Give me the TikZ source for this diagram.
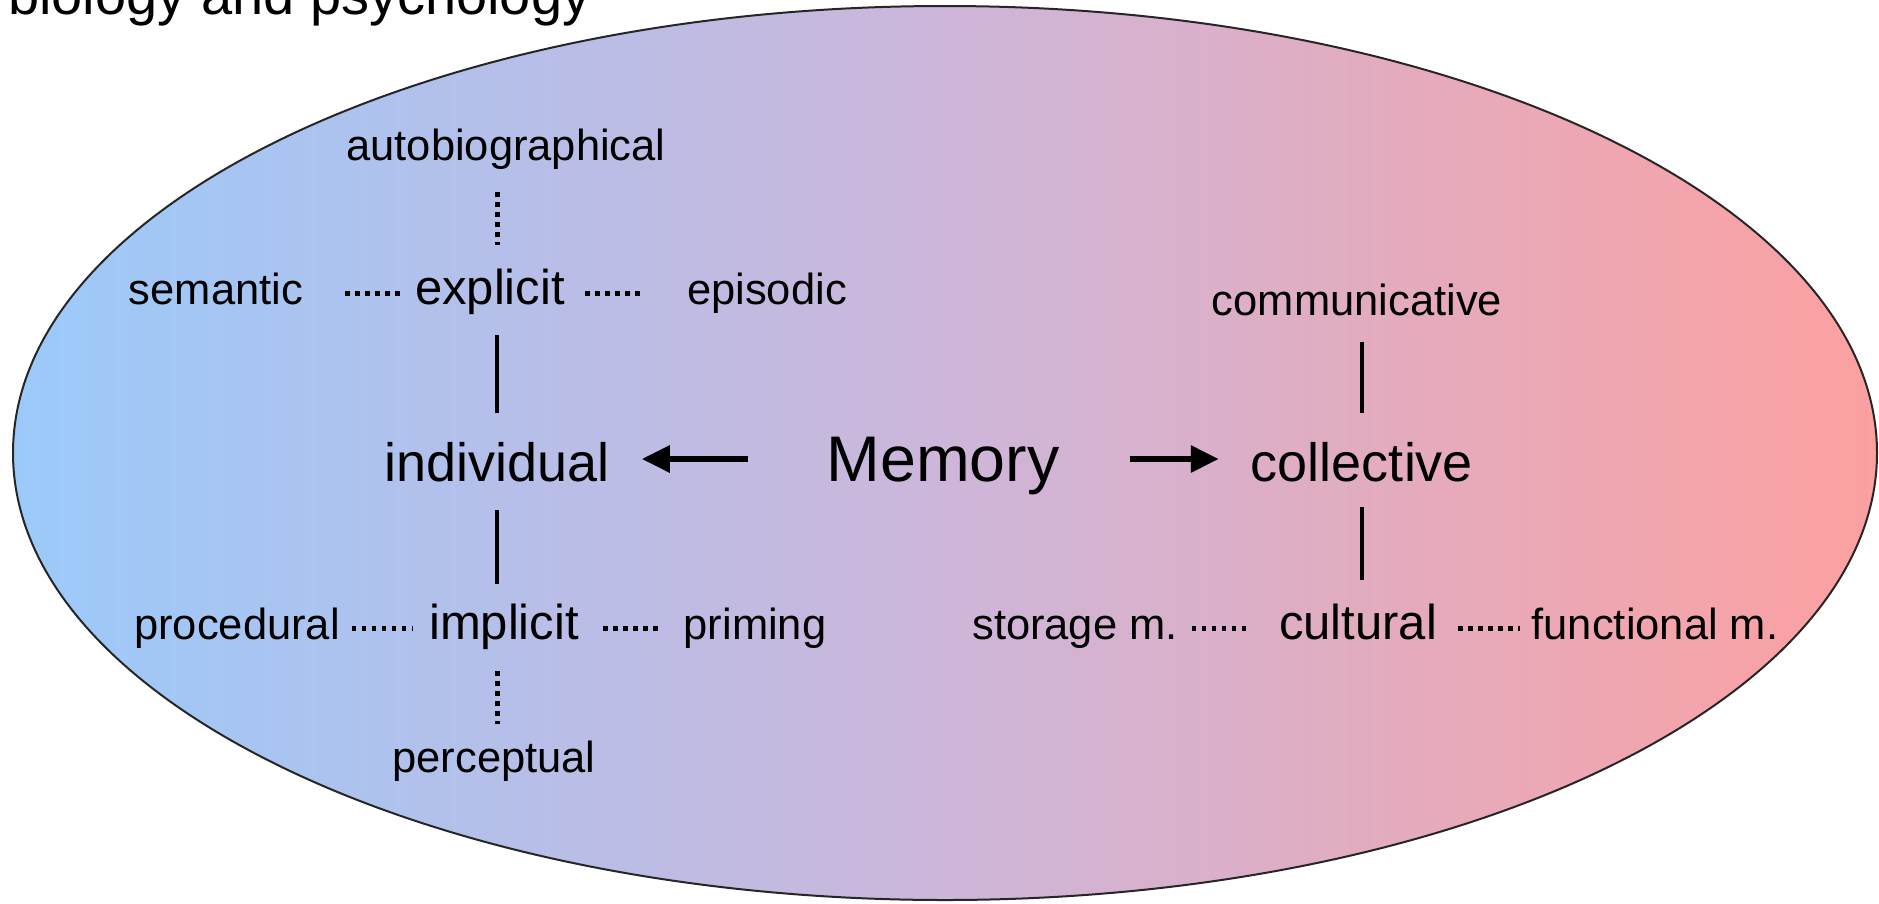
\documentclass[tikz,border=0pt]{standalone}
\usepackage{fontspec}
\setmainfont{Liberation Sans}
\usetikzlibrary{arrows.meta}

\definecolor{memblue}{RGB}{155,202,250}
\definecolor{memmid}{RGB}{205,182,218}
\definecolor{memred}{RGB}{252,160,160}

\begin{document}
\begin{tikzpicture}[x=1pt, y=-1pt,
        every node/.style={inner sep=0pt, text=black, anchor=base},
        lbl/.style={font=\fontsize{43.5}{50}\selectfont},
        sublbl/.style={font=\fontsize{49}{56}\selectfont},
        mainlbl/.style={font=\fontsize{54}{62}\selectfont},
        rootlbl/.style={font=\fontsize{64.5}{74}\selectfont},
        dotline/.style={line width=5pt, dash pattern=on 4.5pt off 5.5pt},
        solidline/.style={line width=4.8pt},
        bigarrow/.style={line width=6pt, -{Triangle[length=28pt,width=26pt]}}]
    \def\rowA{304}
    \def\rowB{481}
    \def\rowC{639}

    \useasboundingbox (0,0) rectangle (1879,903);

    % Background ellipse
    \shadedraw[left color=memblue, right color=memred, middle color=memmid,
        draw=black!85, line width=2pt] (945,453) ellipse [x radius=932, y radius=447];

    % Title, cut off by the top edge
    \node[font=\fontsize{56}{64}\selectfont, anchor=base west] (ttl) at (8,14) {biology and psychology};

    % Centre row
    \node[rootlbl] (mem) at (943,\rowB) {Memory};
    \node[mainlbl] (indiv) at (497,\rowB) {individual};
    \node[mainlbl] (coll) at (1362,\rowB) {collective};

    % Individual branch
    \node[lbl] (auto) at (506,160) {autobiographical};
    \node[lbl] (sem) at (216,\rowA) {semantic};
    \node[sublbl] (expl) at (490,\rowA) {explicit};
    \node[lbl] (epi) at (767,\rowA) {episodic};
    \node[lbl] (proc) at (237,\rowC) {procedural};
    \node[sublbl] (impl) at (504,\rowC) {implicit};
    \node[lbl] (prim) at (755,\rowC) {priming};
    \node[lbl] (perc) at (494,772) {perceptual};

    % Collective branch
    \node[lbl] (comm) at (1357,315) {communicative};
    \node[lbl] (stor) at (1075,\rowC) {storage m.};
    \node[sublbl] (cult) at (1358,\rowC) {cultural};
    \node[lbl] (func) at (1655,\rowC) {functional m.};

    % Arrows
    \draw[bigarrow, shorten <=78pt, shorten >=32pt] ([yshift=22pt]mem.base west) -- ([yshift=22pt]indiv.base east);
    \draw[bigarrow, shorten <=70pt, shorten >=32pt] ([yshift=22pt]mem.base east) -- ([yshift=22pt]coll.base west);

    % Vertical links
    \draw[dotline, shorten <=23pt, shorten >=23pt] (auto.south -| indiv) -- (expl.north -| indiv);
    \draw[solidline, shorten <=21pt, shorten >=29pt] (expl.south -| indiv) -- (indiv.north);
    \draw[solidline, shorten <=28pt, shorten >=19pt] (indiv.south) -- (impl.north -| indiv);
    \draw[dotline, shorten <=22pt, shorten >=16pt] (impl.south -| indiv) -- (perc.north -| indiv);
    \draw[solidline, shorten <=26pt, shorten >=29pt] (comm.south -| coll) -- (coll.north);
    \draw[solidline, shorten <=25pt, shorten >=23pt] (coll.south) -- (cult.north -| coll);

    % Horizontal dotted links
    \draw[dotline, shorten <=42pt, shorten >=12pt] ([yshift=11pt]sem.base east) -- ([yshift=11pt]expl.base west);
    \draw[dotline, shorten <=20pt, shorten >=46pt] ([yshift=11pt]expl.base east) -- ([yshift=11pt]epi.base west);
    \draw[dotline, shorten <=12pt, shorten >=16pt] ([yshift=11pt]proc.base east) -- ([yshift=11pt]impl.base west);
    \draw[dotline, shorten <=24pt, shorten >=24pt] ([yshift=11pt]impl.base east) -- ([yshift=11pt]prim.base west);
    \draw[dotline, shorten <=14pt, shorten >=27pt] ([yshift=11pt]stor.base east) -- ([yshift=11pt]cult.base west);
    \draw[dotline, shorten <=21pt, shorten >=12pt] ([yshift=11pt]cult.base east) -- ([yshift=11pt]func.base west);
\end{tikzpicture}
\end{document}
